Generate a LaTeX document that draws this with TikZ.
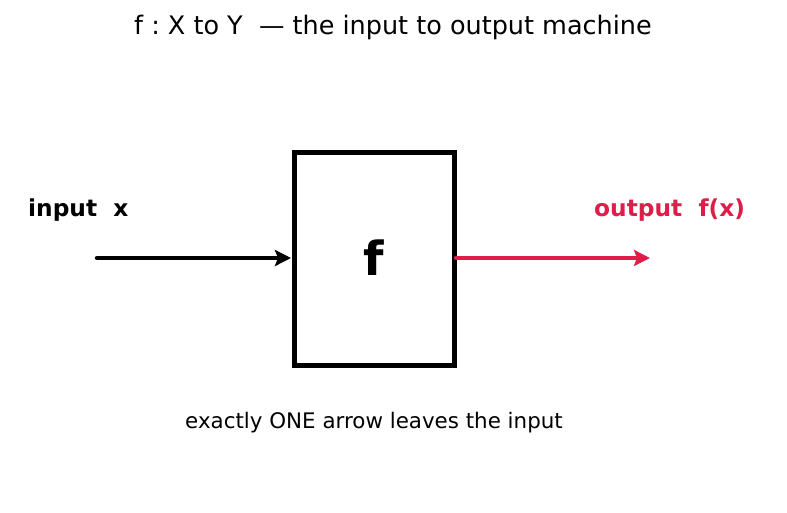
\documentclass[tikz,border=0pt]{standalone}
\usepackage{fontspec}
\setmainfont{DejaVu Sans}
\usetikzlibrary{arrows.meta}
\definecolor{outred}{RGB}{220,30,72}
\frenchspacing
\begin{document}
\begin{tikzpicture}[x=1pt,y=-1pt,
  conn/.style={line width=4.5pt,line cap=round,-{Stealth[length=16pt,width=16pt,inset=3pt]}},
  lbl/.style={font=\fontsize{23.3}{27}\selectfont\bfseries,inner sep=0pt}]
\useasboundingbox (0,0) rectangle (787,512);
\node[inner sep=0pt,font=\fontsize{25.5}{30}\selectfont] (title) at (393,27) {f : X to Y \ — the input to output machine};
\draw[line width=5pt] (294,152) rectangle (454,365);
\node[inner sep=0pt,font=\fontsize{47}{52}\selectfont\bfseries] (f) at (374,258) {f};
\coordinate (boxl) at (291,258);
\coordinate (boxr) at (456,258);
\coordinate (inl) at (97,258);
\coordinate (outr) at (650,258);
\node[lbl,anchor=west] (inp) at (28,210) {input\ \ x};
\node[lbl,anchor=west,text=outred] (outp) at (594,210) {output\ \ f(x)};
\draw[conn] (inl) -- (boxl);
\draw[conn,outred] (boxr) -- (outr);
\node[inner sep=0pt,font=\fontsize{21.4}{25}\selectfont] (note) at (374,423) {exactly ONE arrow leaves the input};
\end{tikzpicture}
\end{document}
